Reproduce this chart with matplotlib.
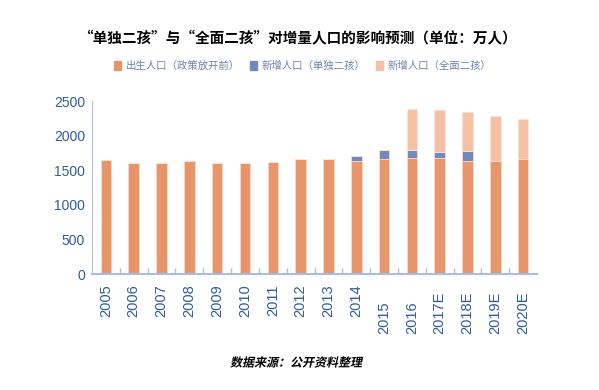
import matplotlib
matplotlib.use("Agg")
import matplotlib.pyplot as plt
import matplotlib.transforms as mtransforms
from matplotlib.patches import Patch, PathPatch
from matplotlib.textpath import TextPath
from matplotlib.font_manager import FontProperties
import numpy as np

plt.rcParams['font.family'] = ['Noto Sans CJK SC', 'DejaVu Sans']

years = ["2005", "2006", "2007", "2008", "2009", "2010", "2011", "2012",
         "2013", "2014", "2015", "2016", "2017E", "2018E", "2019E", "2020E"]
births = [1645, 1605, 1605, 1638, 1605, 1605, 1612, 1655,
          1655, 1630, 1662, 1672, 1676, 1637, 1628, 1657]
added_single = [0, 0, 0, 0, 0, 0, 0, 0,
                0, 75, 130, 120, 90, 140, 0, 0]
added_full = [0, 0, 0, 0, 0, 0, 0, 0,
              0, 0, 0, 590, 605, 560, 650, 580]

c_birth = "#E9956C"
c_single = "#7189BF"
c_full = "#F4C1A6"
c_axis = "#A9BEDD"
c_tick = "#2E5C9A"

fig = plt.figure(figsize=(5.99, 3.9), dpi=100)
ax = fig.add_axes([0.1536, 0.2974, 0.7429, 0.4436])

x = np.arange(len(years))
w = 0.38
bottom2 = np.array(births) + np.array(added_single)
ax.bar(x, births, w, color=c_birth, edgecolor="#F8D9C8", linewidth=0.6)
ax.bar(x, added_single, w, bottom=births, color=c_single, edgecolor="#F8D9C8", linewidth=0.6)
ax.bar(x, added_full, w, bottom=bottom2, color=c_full, edgecolor="#FBE3D6", linewidth=0.6)

ax.set_xlim(-0.5, len(years) - 0.5)
ax.set_ylim(0, 2500)
ax.set_yticks(range(0, 2501, 500))
ax.tick_params(axis='y', length=0, pad=5, labelsize=10, labelcolor=c_tick)
for t in ax.get_yticklabels():
    t.set_family('Liberation Sans')
ax.set_xticks([])
ax.set_xticks(np.arange(0.5, len(years) - 0.5, 1), minor=True)
ax.tick_params(axis='x', which='minor', direction='in', length=4.5, color=c_axis, width=1)

for s in ["top", "right"]:
    ax.spines[s].set_visible(False)
ax.spines["left"].set_color(c_axis)
ax.spines["left"].set_linewidth(0.8)
ax.spines["bottom"].set_color(c_axis)
ax.spines["bottom"].set_linewidth(1.5)

# year labels, vertical
trans = mtransforms.blended_transform_factory(ax.transData, fig.transFigure)
for i, lab in enumerate(years):
    if i < 10:
        ax.text(i, 1 - 284 / 390, lab, rotation=90, ha='center', va='top',
                transform=trans, fontsize=10.5, color=c_tick, family='Liberation Sans')
    else:
        ax.text(i, 1 - 334 / 390, lab, rotation=90, ha='center', va='bottom',
                transform=trans, fontsize=10.5, color=c_tick, family='Liberation Sans')

fig.text(0.497, 1 - 38 / 390, "“单独二孩”与“全面二孩”对增量人口的影响预测（单位：万人）",
         ha='center', va='center', fontsize=10.5, fontweight='bold', color='black')

handles = [Patch(color=c_birth), Patch(color=c_single), Patch(color=c_full)]
labels = ["出生人口（政策放开前）", "新增人口（单独二孩）", "新增人口（全面二孩）"]
fig.legend(handles, labels, loc='center', bbox_to_anchor=(0.505, 1 - 66 / 390), ncol=3,
           frameon=False, fontsize=7.5, labelcolor="#6C84B0", handlelength=0.7,
           handleheight=0.9, handletextpad=0.4, columnspacing=1.0)

# source note, slanted by hand since the CJK font has no italic
src = "数据来源：公开资料整理"
fp = FontProperties(family='Noto Sans CJK SC', weight='bold', size=12)
tp = TextPath((0, 0), src, prop=fp)
bb = tp.get_extents()
skew = mtransforms.Affine2D().translate(-(bb.x0 + bb.x1) / 2, -(bb.y0 + bb.y1) / 2).skew_deg(12, 0)
place = skew + mtransforms.Affine2D().translate(297, 390 - 362)
fig.patches.append(PathPatch(tp, transform=place, color='black', lw=0))

fig.savefig("out.png", dpi=100)
